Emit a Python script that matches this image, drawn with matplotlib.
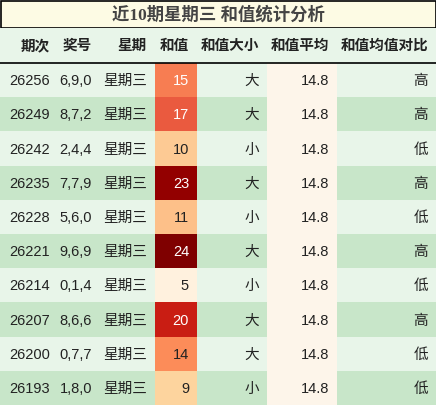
import matplotlib
matplotlib.use("Agg")
import matplotlib.pyplot as plt
from matplotlib.patches import Rectangle
import matplotlib.colors as mcolors

plt.rcParams['font.family'] = ['Liberation Sans', 'Noto Sans CJK SC', 'DejaVu Sans']

title = "近10期星期三 和值统计分析"
headers = ["期次", "奖号", "星期", "和值", "和值大小", "和值平均", "和值均值对比"]
periods = ["26256", "26249", "26242", "26235", "26228", "26221", "26214", "26207", "26200", "26193"]
numbers = ["6,9,0", "8,7,2", "2,4,4", "7,7,9", "5,6,0", "9,6,9", "0,1,4", "8,6,6", "0,7,7", "1,8,0"]
weekday = ["星期三"] * 10
sums = [15, 17, 10, 23, 11, 24, 5, 20, 14, 9]
size = ["大", "大", "小", "大", "小", "大", "小", "大", "大", "小"]
avg = [14.8] * 10
compare = ["高", "高", "低", "高", "低", "高", "低", "高", "低", "低"]

W, H = 436, 405
fig = plt.figure(figsize=(W / 100, H / 100), dpi=100)
ax = fig.add_axes([0, 0, 1, 1])
ax.set_xlim(0, W)
ax.set_ylim(H, 0)
ax.axis('off')

col_edges = [0, 58, 100, 155, 197, 267, 337, 436]
title_h = 27
head_bot = 63
row_h = (H - head_bot) / 10

ax.add_patch(Rectangle((0.5, 0.5), W - 1, title_h, facecolor="#fdfbe4", edgecolor="black", lw=1.2))
ax.text(W / 2, title_h / 2 + 1, title, ha="center", va="center", fontsize=12.5, fontweight="bold",
        color="#444444", family=['Liberation Serif', 'Noto Sans CJK SC'])

ax.add_patch(Rectangle((0, title_h + 1), W, head_bot - title_h - 1, facecolor="#e8f5e9", edgecolor="none"))
ax.plot([0, W], [head_bot, head_bot], color="black", lw=1.2)
for j, h in enumerate(headers):
    ax.text(col_edges[j + 1] - 8, (title_h + head_bot) / 2 + 1, h, ha="right", va="center",
            fontsize=10.5, fontweight="bold", color="#222222")

cmap = plt.get_cmap("OrRd")
norm = mcolors.Normalize(vmin=4, vmax=24)
for i in range(10):
    y0 = head_bot + i * row_h
    bg = "#e8f5e9" if i % 2 == 0 else "#c8e6c9"
    ax.add_patch(Rectangle((0, y0), W, row_h, facecolor=bg, edgecolor="none"))
    ax.add_patch(Rectangle((col_edges[5], y0), col_edges[6] - col_edges[5], row_h, facecolor="#fdf5ea", edgecolor="none"))
    c = cmap(norm(sums[i]))
    ax.add_patch(Rectangle((col_edges[3], y0), col_edges[4] - col_edges[3], row_h, facecolor=c, edgecolor="none"))
    vals = [periods[i], numbers[i], weekday[i], str(sums[i]), size[i], f"{avg[i]}", compare[i]]
    for j, v in enumerate(vals):
        color = "#222222"
        if j == 3 and sums[i] >= 15:
            color = "white"
        ax.text(col_edges[j + 1] - 8, y0 + row_h / 2 + 1, v, ha="right", va="center", fontsize=10.5, color=color)

fig.savefig("out.png", dpi=100)
